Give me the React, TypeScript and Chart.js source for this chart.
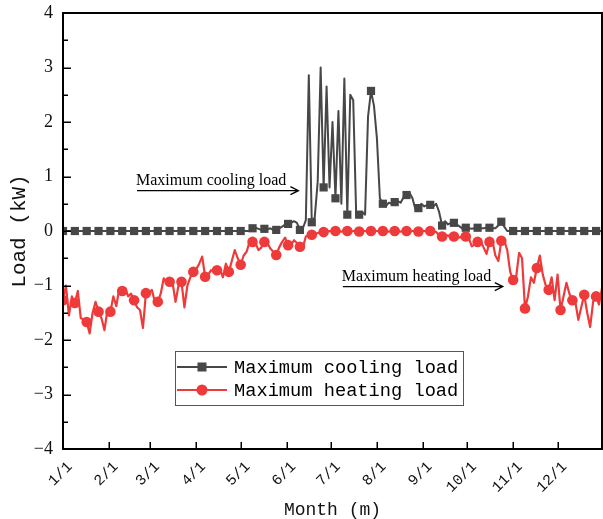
import React, { useEffect, useRef } from 'react';
import { Chart, registerables } from 'chart.js';

Chart.register(...registerables);

// Sampling step (days) between consecutive values
const dayStep = 2;

// Maximum cooling load (kW), one value every 2 days from 1/1
const coolingLoad = [
  0, 0, 0, 0, 0, 0, 0, 0, 0, 0,
  0, 0, 0, 0, 0, 0, 0, 0, 0, 0,
  0, 0, 0, 0, 0, 0, 0, 0, 0, 0,
  0, 0, 0, 0, 0, 0, 0, 0, 0, 0,
  0, 0, 0, 0, 0, 0, 0, 0, 0, 0,
  0, 0, 0, 0, 0, 0, 0, 0, 0, 0,
  0, 0, 0, 0, 0.05, 0.06, 0.04, 0.02, 0.04, 0.03,
  0.05, 0.02, 0.02, 0.05, 0.08, 0.12, 0.13, 0.15, 0.18, 0.15,
  0.02, 0.05, 0.2, 2.86, 0.16, 0.25, 0.9, 3.0, 0.8, 2.65,
  0.8, 2.0, 0.6, 2.2, 0.5, 2.8, 0.3, 2.5, 2.4, 0.3,
  0.3, 0.35, 0.3, 2.1, 2.57, 2.3, 1.7, 0.6, 0.5, 0.45,
  0.52, 0.5, 0.53, 0.55, 0.52, 0.62, 0.66, 0.7, 0.6, 0.4,
  0.42, 0.5, 0.45, 0.48, 0.48, 0.45, 0.5, 0.35, 0.1, 0.18,
  0.12, 0.15, 0.15, 0.12, 0.08, 0.04, 0.06, 0.05, 0.04, 0.05,
  0.06, 0.05, 0.05, 0.06, 0.06, 0.05, 0.05, 0.1, 0.17, 0.08,
  0, 0, 0, 0, 0, 0, 0, 0, 0, 0,
  0, 0, 0, 0, 0, 0, 0, 0, 0, 0,
  0, 0, 0, 0, 0, 0, 0, 0, 0, 0,
  0, 0, 0,
];

// Maximum heating load (kW), one value every 2 days from 1/1
const heatingLoad = [
  -1.27, -1.0, -1.55, -1.2, -1.32, -1.1, -1.6, -1.62, -1.67, -1.88,
  -1.5, -1.3, -1.48, -1.6, -1.82, -1.45, -1.48, -1.2, -1.38, -1.05,
  -1.1, -1.05, -1.2, -1.15, -1.27, -1.4, -1.45, -1.78, -1.14, -1.15,
  -1.08, -1.3, -1.3, -1.15, -0.87, -0.95, -0.93, -0.95, -1.3, -1.0,
  -0.93, -1.4, -1.0, -0.85, -0.75, -0.7, -0.6, -0.47, -0.84, -0.8,
  -0.72, -0.75, -0.72, -0.7, -0.85, -0.6, -0.75, -0.55, -0.35, -0.5,
  -0.62, -0.45, -0.38, -0.2, -0.2, -0.22, -0.35, -0.3, -0.2, -0.22,
  -0.32, -0.38, -0.44, -0.3, -0.2, -0.12, -0.26, -0.25, -0.17, -0.22,
  -0.29, -0.3, -0.1, -0.08, -0.07, -0.05, -0.04, -0.02, -0.02, -0.01,
  0, -0.01, 0, 0, -0.01, 0, 0, -0.01, 0, 0,
  -0.01, 0, 0, -0.01, 0, 0, 0, -0.01, 0, 0,
  -0.01, 0, 0, 0, -0.01, 0, 0, -0.01, 0, 0,
  -0.01, 0, 0, -0.01, 0, 0, -0.02, -0.08, -0.1, -0.1,
  -0.08, -0.12, -0.1, -0.1, -0.12, -0.08, -0.1, -0.12, -0.28, -0.25,
  -0.2, -0.18, -0.3, -0.42, -0.2, -0.18, -0.45, -0.55, -0.18, -0.17,
  -0.35, -0.75, -0.9, -0.85, -0.4, -0.5, -1.42, -1.2, -0.85, -0.95,
  -0.68, -0.45, -0.8, -1.0, -1.08, -0.85, -1.27, -0.8, -1.45, -1.2,
  -0.95, -1.15, -1.27, -1.3, -1.63, -1.4, -1.17, -1.5, -1.76, -1.3,
  -1.2, -1.35, -1.05,
];

const monthStartDays = [0, 31, 59, 90, 120, 151, 181, 212, 243, 273, 304, 334];
const monthLabels = ['1/1', '2/1', '3/1', '4/1', '5/1', '6/1', '7/1', '8/1', '9/1', '10/1', '11/1', '12/1'];
const yMin = -4;
const yMax = 4;
const yStep = 1;
const xMaxDay = 364;

const seriesNames = ['Maximum cooling load', 'Maximum heating load'];
const notes = [
  { text: 'Maximum cooling load', fromDay: 50, toDay: 159, value: 0.74 },
  { text: 'Maximum heating load', fromDay: 189, toDay: 297, value: -1.02 },
];

const GRAY = '#474747';
const RED = '#ee3a3a';
const markerEvery = 4;

const decorPlugin = {
  id: 'decor',
  afterDatasetsDraw(chart: any) {
    const { ctx, chartArea: a, scales } = chart;
    const xs = scales.x;
    const ys = scales.y;
    ctx.save();
    // ticks
    ctx.strokeStyle = '#000';
    ctx.lineWidth = 1.5;
    ctx.beginPath();
    for (let v = yMin; v <= yMax; v += yStep / 2) {
      const py = Math.round(ys.getPixelForValue(v)) + 0.25;
      const len = Number.isInteger(v) ? 8 : 5;
      ctx.moveTo(a.left, py);
      ctx.lineTo(a.left + len, py);
    }
    for (const d of monthStartDays) {
      const px = Math.round(xs.getPixelForValue(d)) + 0.25;
      ctx.moveTo(px, a.bottom);
      ctx.lineTo(px, a.bottom - 7);
    }
    ctx.stroke();
    // frame
    ctx.lineWidth = 2;
    ctx.strokeRect(a.left, a.top, a.right - a.left, a.bottom - a.top);

    // annotations with arrows
    ctx.font = '16px "Liberation Serif", serif';
    ctx.fillStyle = '#000';
    ctx.textAlign = 'left';
    ctx.textBaseline = 'alphabetic';
    ctx.lineWidth = 1.3;
    for (const n of notes) {
      const x0 = xs.getPixelForValue(n.fromDay);
      const x1 = xs.getPixelForValue(n.toDay);
      const y = ys.getPixelForValue(n.value);
      ctx.fillText(n.text, x0 - 1, y - 6);
      ctx.beginPath();
      ctx.moveTo(x0, y);
      ctx.lineTo(x1, y);
      ctx.moveTo(x1 - 8, y - 4);
      ctx.lineTo(x1, y);
      ctx.lineTo(x1 - 8, y + 4);
      ctx.stroke();
    }

    // legend
    const lx = a.left + 112;
    const ly = a.top + 338;
    const lw = 288;
    const lh = 54;
    ctx.fillStyle = '#fff';
    ctx.fillRect(lx, ly, lw, lh);
    ctx.strokeStyle = '#555';
    ctx.lineWidth = 1;
    ctx.strokeRect(lx + 0.5, ly + 0.5, lw, lh);
    const ds = chart.data.datasets;
    const rows = [ly + 16, ly + 39];
    ds.forEach((d: any, i: number) => {
      const ry = rows[i];
      ctx.strokeStyle = d.borderColor;
      ctx.fillStyle = d.borderColor;
      ctx.lineWidth = 2;
      ctx.beginPath();
      ctx.moveTo(lx + 2, ry);
      ctx.lineTo(lx + 52, ry);
      ctx.stroke();
      const cx = lx + 27;
      if (i === 0) {
        ctx.fillRect(cx - 4.5, ry - 4.5, 9, 9);
      } else {
        ctx.beginPath();
        ctx.arc(cx, ry, 5.5, 0, Math.PI * 2);
        ctx.fill();
      }
      ctx.fillStyle = '#000';
      ctx.font = '18.7px "Liberation Mono", monospace';
      ctx.textBaseline = 'middle';
      ctx.fillText(d.label, lx + 59, ry + 1);
    });
    ctx.restore();
  },
};

export default function App() {
  const ref = useRef<HTMLCanvasElement>(null);
  useEffect(() => {
    const canvas = ref.current;
    if (!canvas) return;
    const toPoints = (arr: number[]) => arr.map((v, i) => ({ x: i * dayStep, y: v }));
    const chart = new Chart(canvas, {
      type: 'line',
      data: {
        datasets: [
          {
            label: seriesNames[0],
            data: toPoints(coolingLoad),
            borderColor: GRAY,
            backgroundColor: GRAY,
            pointBackgroundColor: GRAY,
            pointBorderColor: GRAY,
            pointBorderWidth: 0,
            borderWidth: 2,
            borderJoinStyle: 'round',
            pointStyle: 'rect',
            pointRadius: (c: any) => (c.dataIndex % markerEvery === 0 ? 5.8 : 0),
            tension: 0,
            order: 1,
          },
          {
            label: seriesNames[1],
            data: toPoints(heatingLoad),
            borderColor: RED,
            backgroundColor: RED,
            pointBackgroundColor: RED,
            pointBorderColor: RED,
            pointBorderWidth: 0,
            borderWidth: 2.2,
            borderJoinStyle: 'round',
            pointStyle: 'circle',
            pointRadius: (c: any) => (c.dataIndex % markerEvery === 0 ? 5.3 : 0),
            tension: 0,
            order: 0,
          },
        ],
      } as any,
      options: {
        responsive: false,
        animation: false,
        devicePixelRatio: 1,
        layout: { autoPadding: false, padding: { top: 13, right: 1, left: 0, bottom: 0 } },
        plugins: { legend: { display: false }, tooltip: { enabled: false } },
        scales: {
          x: {
            type: 'linear',
            min: 0,
            max: xMaxDay,
            afterFit: (s: any) => {
              s.height = 70;
              s.paddingLeft = 0;
              s.paddingRight = 0;
            },
            afterBuildTicks: (s: any) => { s.ticks = monthStartDays.map((v) => ({ value: v })); },
            grid: { display: false, drawTicks: false },
            border: { display: false },
            ticks: {
              autoSkip: false,
              maxRotation: 45,
              minRotation: 45,
              padding: 9,
              labelOffset: 7,
              color: '#111',
              font: { family: '"Liberation Mono", monospace', size: 15 },
              callback: (v: any) => monthLabels[monthStartDays.indexOf(Number(v))] ?? '',
            },
            title: {
              display: true,
              text: 'Month (m)',
              color: '#111',
              font: { family: '"Liberation Mono", monospace', size: 18, lineHeight: 1 },
              padding: { top: 0, bottom: 0 },
            },
          },
          y: {
            min: yMin,
            max: yMax,
            afterFit: (s: any) => {
              s.width = 63;
              s.paddingTop = 0;
              s.paddingBottom = 0;
            },
            grid: { display: false, drawTicks: false },
            border: { display: false },
            ticks: {
              stepSize: yStep,
              padding: 10,
              color: '#111',
              font: { family: '"Liberation Serif", serif', size: 18 },
              callback: (v: any) => (Number(v) < 0 ? '\u2212' + Math.abs(Number(v)) : String(v)),
            },
            title: {
              display: true,
              text: 'Load (kW)',
              color: '#111',
              font: { family: '"Liberation Mono", monospace', size: 21, lineHeight: 1.2 },
              padding: { top: 7, bottom: 0 },
            },
          },
        },
      } as any,
      plugins: [decorPlugin],
    });
    return () => chart.destroy();
  }, []);
  return (
    <div style={{ position: 'fixed', left: 0, top: 0, width: 603, height: 519, background: '#fff' }}>
      <canvas ref={ref} width={603} height={519} style={{ display: 'block' }} />
    </div>
  );
}
